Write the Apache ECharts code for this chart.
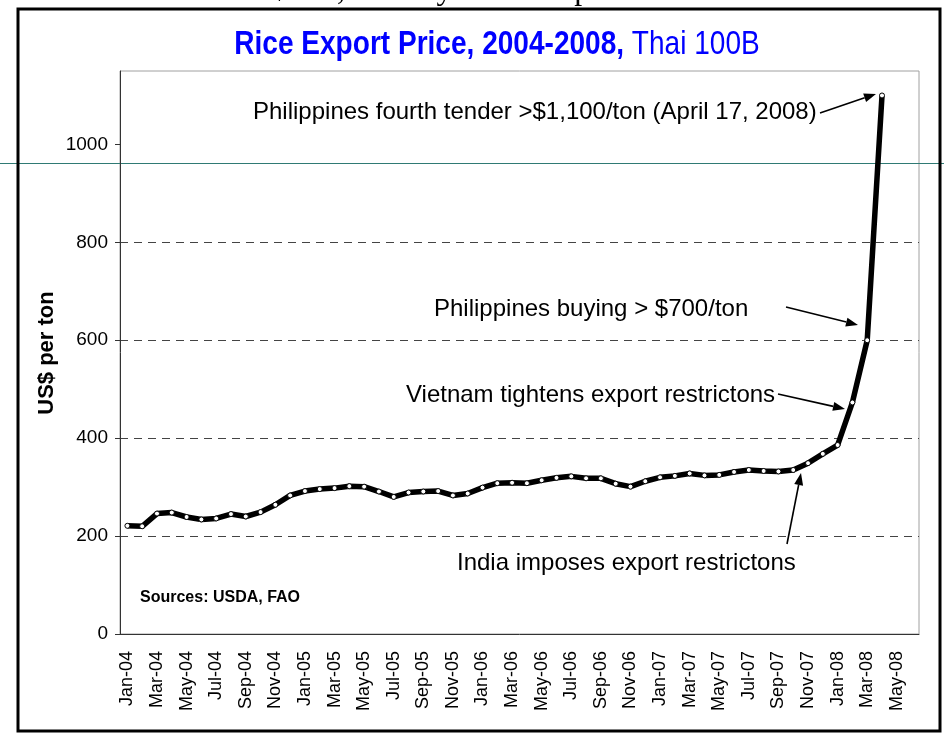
<!DOCTYPE html>
<html>
<head>
<meta charset="utf-8">
<title>Rice Export Price, 2004-2008</title>
<script src="https://cdn.jsdelivr.net/npm/echarts@6/dist/echarts.min.js"></script>
<style>
html, body { margin: 0; padding: 0; background: #fff; }
#main { width: 944px; height: 736px; }
</style>
</head>
<body>
<div id="main"></div>
<script>
// axis runs two months past the last quote (Jun-08)
var months = [
  'Jan-04', 'Feb-04', 'Mar-04', 'Apr-04', 'May-04', 'Jun-04', 'Jul-04', 'Aug-04', 'Sep-04', 'Oct-04', 'Nov-04', 'Dec-04',
  'Jan-05', 'Feb-05', 'Mar-05', 'Apr-05', 'May-05', 'Jun-05', 'Jul-05', 'Aug-05', 'Sep-05', 'Oct-05', 'Nov-05', 'Dec-05',
  'Jan-06', 'Feb-06', 'Mar-06', 'Apr-06', 'May-06', 'Jun-06', 'Jul-06', 'Aug-06', 'Sep-06', 'Oct-06', 'Nov-06', 'Dec-06',
  'Jan-07', 'Feb-07', 'Mar-07', 'Apr-07', 'May-07', 'Jun-07', 'Jul-07', 'Aug-07', 'Sep-07', 'Oct-07', 'Nov-07', 'Dec-07',
  'Jan-08', 'Feb-08', 'Mar-08', 'Apr-08', 'May-08', 'Jun-08'
]
// Thai 100B, US$ per ton
var price = [
  221, 220, 246, 248, 239, 234, 236, 245, 240, 249, 264, 283,
  292, 296, 298, 302, 301, 291, 280, 289, 291, 292, 283, 287,
  299, 308, 309, 308, 314, 319, 322, 318, 318, 307, 301, 312,
  320, 323, 328, 324, 325, 331, 335, 333, 332, 335, 349, 368,
  386, 473, 600, 1100
]
var yTicks = [0, 200, 400, 600, 800, 1000]

var FONT = '"Liberation Sans", Arial, sans-serif'

function arrow(x1, y1, x2, y2) {
  var a = Math.atan2(y2 - y1, x2 - x1)
  var L = 12, W = 4.5
  var bx = x2 - L * Math.cos(a), by = y2 - L * Math.sin(a)
  return [
    { type: 'line', z: 10, shape: { x1: x1, y1: y1, x2: bx, y2: by }, style: { stroke: '#000', lineWidth: 1.6 } },
    {
      type: 'polygon', z: 10,
      shape: { points: [[x2, y2], [bx + W * Math.sin(a), by - W * Math.cos(a)], [bx - W * Math.sin(a), by + W * Math.cos(a)]] },
      style: { fill: '#000' }
    }
  ]
}

function note(text, x, y) {
  return {
    type: 'text', z: 10, x: x, y: y,
    style: { text: text, font: '24px ' + FONT, fill: '#000', align: 'left', verticalAlign: 'middle' }
  }
}

var graphics = [
  // outer frame of the slide chart
  { type: 'rect', z: 20, shape: { x: 18, y: 9, width: 922, height: 722 }, style: { fill: 'none', stroke: '#000', lineWidth: 3 } },
  // stray slide guide line
  { type: 'line', z: 0, shape: { x1: 0, y1: 163.5, x2: 944, y2: 163.5 }, style: { stroke: '#2f7a74', lineWidth: 1 } },
  // clipped subtitle above the frame
  {
    type: 'text', z: 10, x: 481, y: -9,
    style: { text: '$/ton, January 2004 - April 2008', font: '32px "Liberation Serif", "Times New Roman", serif', fill: '#000', align: 'center', verticalAlign: 'middle' }
  },
  {
    type: 'text', z: 10, x: 497, y: 45, scaleX: 0.85,
    style: {
      text: '{b|Rice Export Price, 2004-2008,}{n| Thai 100B}',
      align: 'center', verticalAlign: 'middle',
      rich: {
        b: { font: 'bold 33px ' + FONT, fill: '#0000ff' },
        n: { font: '33px ' + FONT, fill: '#0000ff' }
      }
    }
  },
  {
    type: 'text', z: 10, x: 47, y: 353, rotation: Math.PI / 2,
    style: { text: 'US$ per ton', font: 'bold 22px ' + FONT, fill: '#000', align: 'center', verticalAlign: 'middle' }
  },
  {
    type: 'text', z: 10, x: 140, y: 598,
    style: { text: 'Sources: USDA, FAO', font: 'bold 16px ' + FONT, fill: '#000', align: 'left', verticalAlign: 'middle' }
  },
  note('Philippines fourth tender >$1,100/ton (April 17, 2008)', 253, 112),
  note('Philippines buying > $700/ton', 434, 309),
  note('Vietnam tightens export restrictons', 406, 395),
  note('India imposes export restrictons', 457, 563)
]
  .concat(arrow(820, 113, 876, 94))
  .concat(arrow(786, 307, 858, 325))
  .concat(arrow(778, 394, 845, 409))
  .concat(arrow(787, 544, 801, 473))

var chart = echarts.init(document.getElementById('main'), null, { renderer: 'canvas' })
chart.setOption({
  animation: false,
  backgroundColor: '#fff',
  grid: {
    left: 120,
    right: 25,
    top: 71,
    bottom: 102,
    show: true,
    backgroundColor: 'transparent',
    borderColor: '#a0a0a0',
    borderWidth: 1,
  },
  xAxis: {
    type: 'category',
    data: months,
    boundaryGap: true,
    axisLine: { lineStyle: { color: '#333', width: 1 } },
    axisTick: { interval: 1, length: 5, lineStyle: { color: '#333' } },
    axisLabel: {
      interval: 1,
      rotate: 90,
      margin: 17,
      fontSize: 18,
      fontFamily: FONT,
      color: '#000',
    },
    splitLine: { show: false },
  },
  yAxis: {
    type: 'value',
    min: 0,
    max: 1150,
    interval: 200,
    axisLine: { show: true, lineStyle: { color: '#333', width: 1 } },
    axisTick: { show: true, length: 5, customValues: yTicks, lineStyle: { color: '#333' } },
    axisLabel: {
      customValues: yTicks,
      margin: 12,
      fontSize: 19,
      fontFamily: FONT,
      color: '#000',
      formatter: function (v) {
        return String(v)
      },
    },
    splitLine: {
      show: true,
      showMinLine: false,
      showMaxLine: false,
      lineStyle: { color: '#444', width: 1, type: [8, 6] },
    },
  },
  series: [
    {
      name: 'Thai 100B',
      type: 'line',
      data: price,
      z: 5,
      symbol: 'circle',
      symbolSize: 5,
      showAllSymbol: true,
      lineStyle: { color: '#000', width: 5.5 },
      itemStyle: { color: '#fff', borderColor: '#000', borderWidth: 1 },
      emphasis: { disabled: true },
    },
  ],
  graphic: graphics,
})
</script>
</body>
</html>
